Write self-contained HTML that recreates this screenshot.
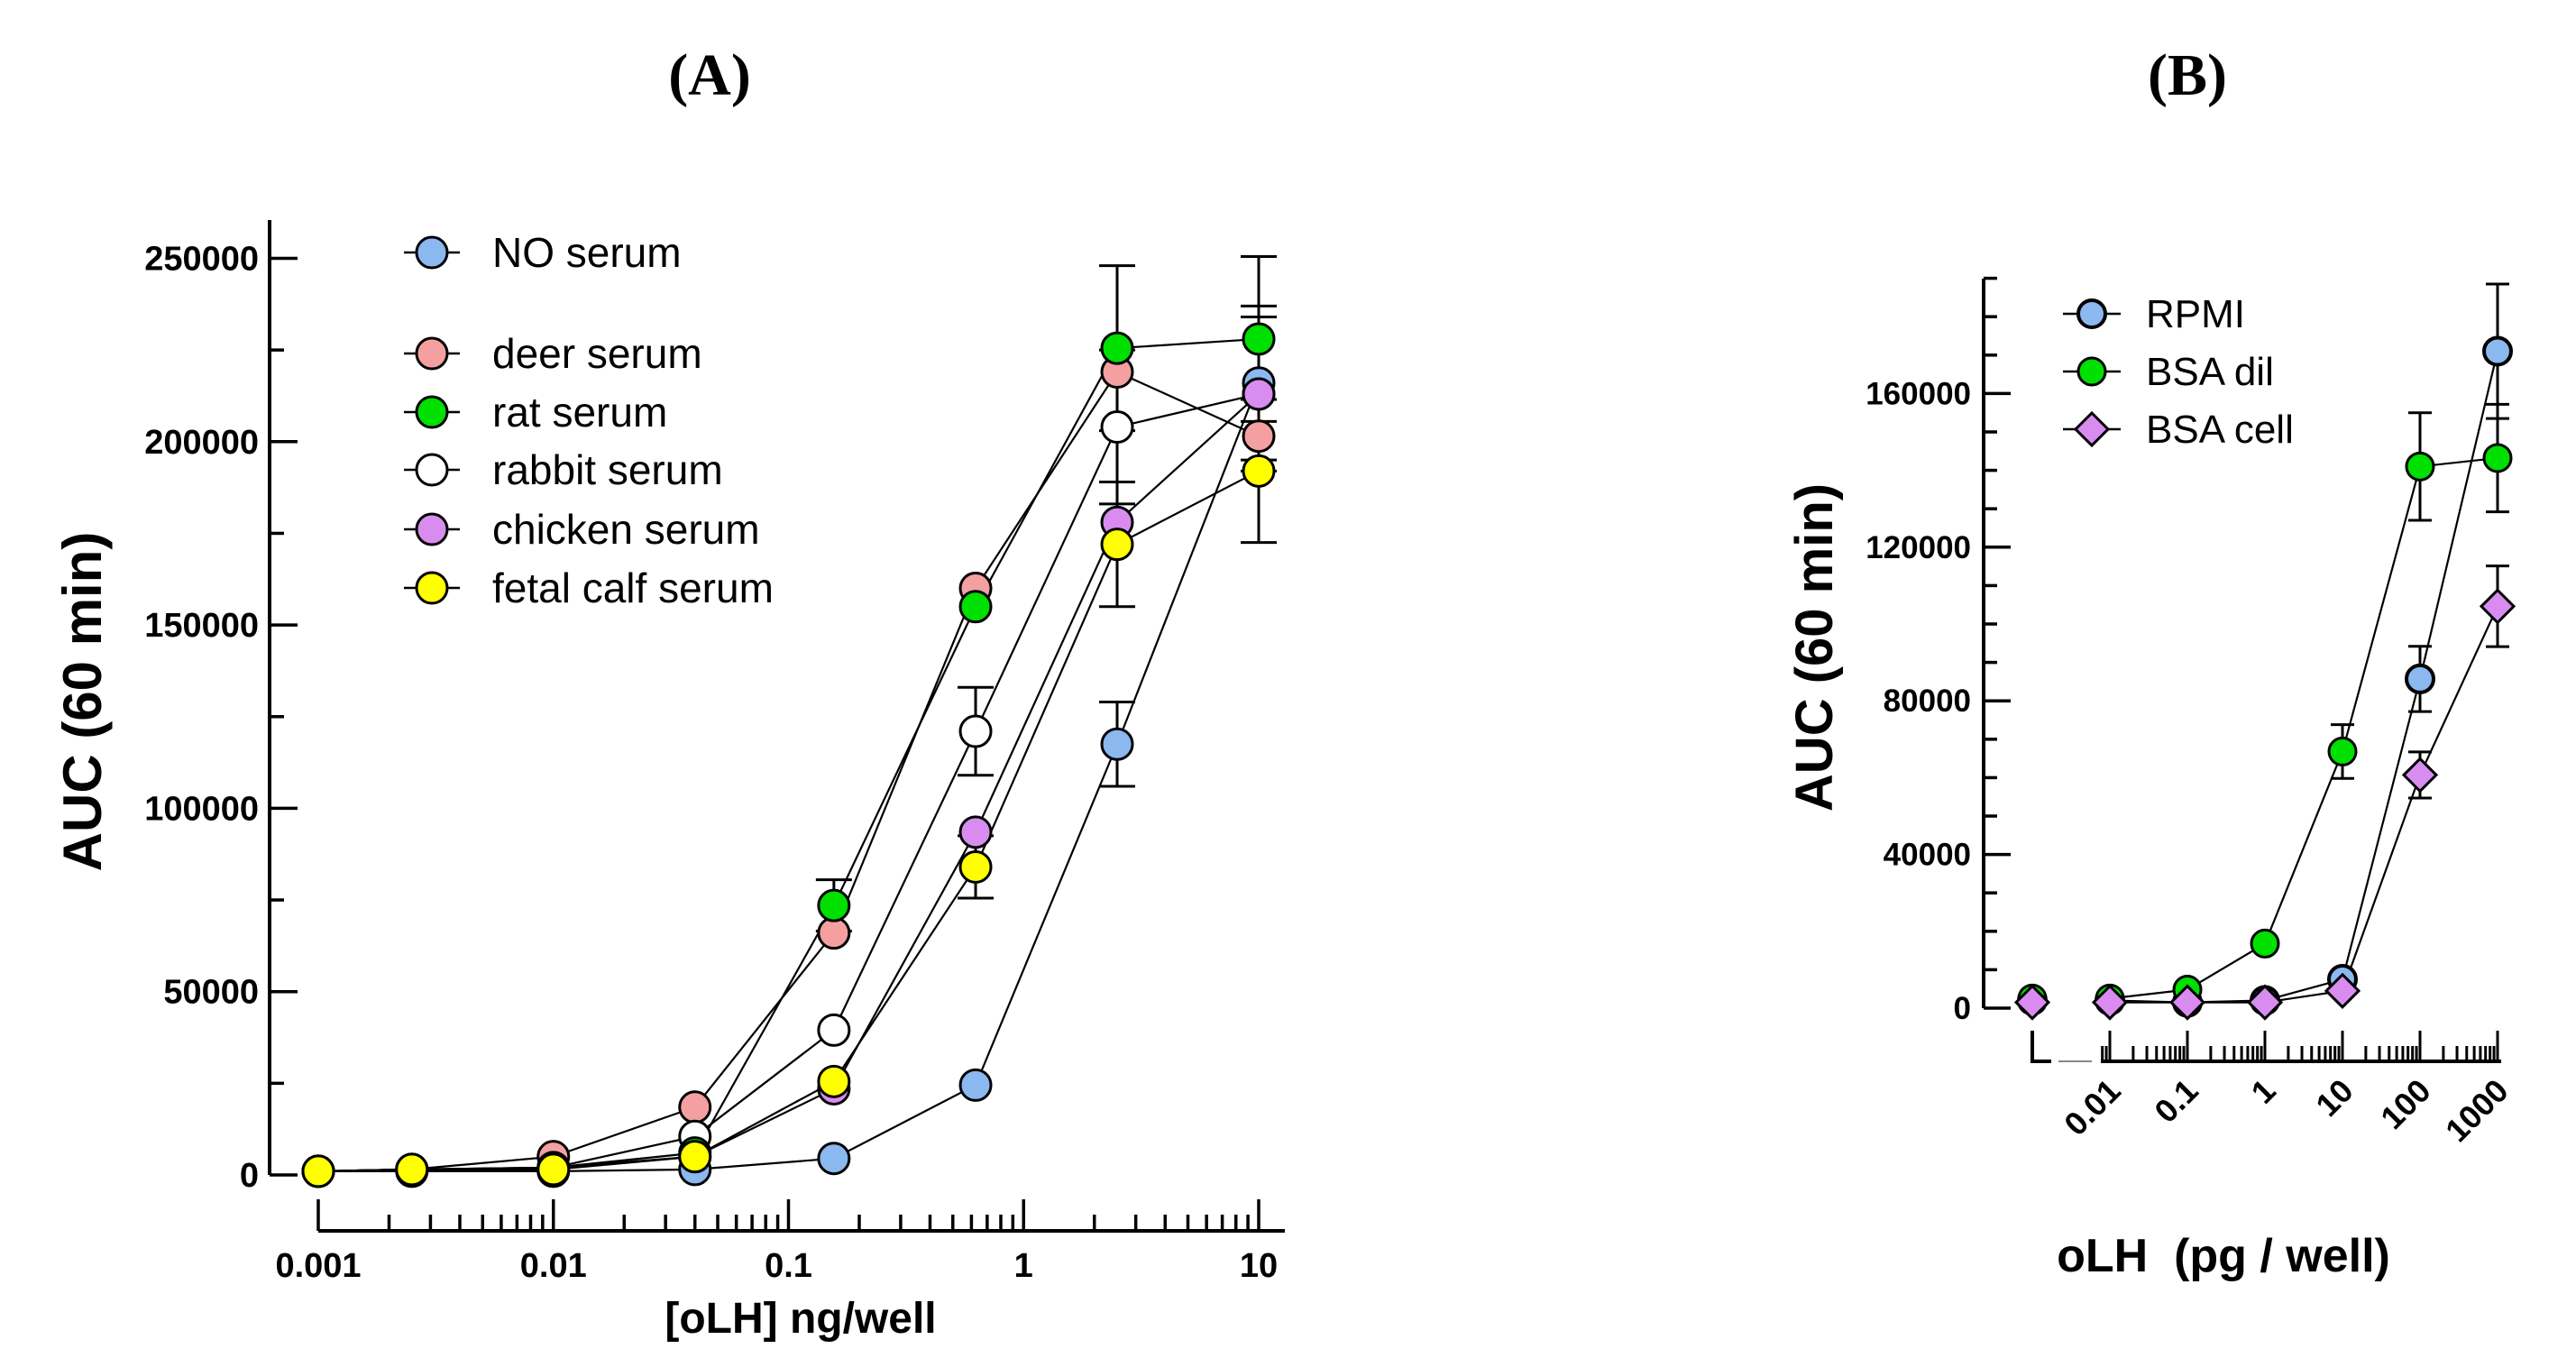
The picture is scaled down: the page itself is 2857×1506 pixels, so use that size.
<!DOCTYPE html>
<html><head><meta charset="utf-8"><style>
html,body{margin:0;padding:0;background:#fff;}
svg{display:block;font-family:"Liberation Sans",Arial,sans-serif;}
</style></head><body>
<svg id="chart" width="2857" height="1506" viewBox="0 0 2857 1506" xmlns="http://www.w3.org/2000/svg">
<text x="787" y="105" font-family="Liberation Serif,serif" font-weight="bold" font-size="66" text-anchor="middle">(A)</text>
<text x="2426" y="105" font-family="Liberation Serif,serif" font-weight="bold" font-size="66" text-anchor="middle">(B)</text>
<g id="gA"></g>
<g id="gB"></g>
</svg>
<script>
// Panel A data
const aX = [0.001, 0.0025, 0.01, 0.04, 0.156, 0.625, 2.5, 10];
const aNames = ["NO serum","deer serum","rat serum","rabbit serum","chicken serum","fetal calf serum"];
const aColors = ["#8cb8f0","#f4a0a0","#00e000","#ffffff","#d88cf0","#ffff00"];
const aNo      = [1000,1000,1000,1500,4500,24500,117500,216000];
const aDeer    = [1000,1500,5000,18500,66000,160000,219000,201500];
const aRat     = [1000,1500,2000,6000,73500,155000,225500,228000];
const aRabbit  = [1000,1500,2000,10500,39500,121000,204000,213000];
const aChicken = [1000,1500,2000,5000,23500,93500,178000,213000];
const aFcs     = [1000,1500,1500,5000,25500,84000,172000,192000];
const aErrNo      = [0,0,0,0,0,0,11500,21000];
const aErrDeer    = [0,0,0,0,0,0,0,0];
const aErrRat     = [0,0,0,0,7000,0,22500,22500];
const aErrRabbit  = [0,0,0,0,0,12000,21000,0];
const aErrChicken = [0,0,0,0,0,0,0,21000];
const aErrFcs     = [0,0,0,0,0,8500,17000,19500];
const aYTicks = [0,50000,100000,150000,200000,250000];
const aXTicks = [0.001,0.01,0.1,1,10];
const aXTickLabels = ["0.001","0.01","0.1","1","10"];

// Panel B data
const bX = [0, 0.01, 0.1, 1, 10, 100, 1000];
const bNames = ["RPMI","BSA dil","BSA cell"];
const bColors = ["#8cb8f0","#00e000","#d88cf0"];
const bRpmi  = [2000,2000,1500,2000,7500,85700,171000];
const bDil   = [2500,2500,4800,16800,66800,141000,143200];
const bCell  = [1500,1500,1500,1500,4500,60700,104600];
const bErrRpmi = [0,0,0,0,0,8500,17500];
const bErrDil  = [0,0,0,0,7000,14000,14000];
const bErrCell = [0,0,0,0,0,6000,10500];
const bYTicks = [0,40000,80000,120000,160000];
const bXTicks = [0.01,0.1,1,10,100,1000];
const bXTickLabels = ["0.01","0.1","1","10","100","1000"];

const NS="http://www.w3.org/2000/svg";
function mk(parent,tag,attrs,text){const e=document.createElementNS(NS,tag);for(const k in attrs)e.setAttribute(k,attrs[k]);if(text!==undefined)e.textContent=text;parent.appendChild(e);return e;}

// ---------- Panel A ----------
const gA=document.getElementById('gA');
const axA={x0:353,dec:260.75,y0:1303,k:0.004066};
const xA=v=>axA.x0+Math.log10(v/0.001)*axA.dec;
const yA=v=>axA.y0-v*axA.k;
let e=mk(gA,'line',{x1:299,y1:244,x2:299,y2:1303,stroke:'#000','stroke-width':4});

for(let v=0;v<=250000;v+=25000){
  const major=v%50000===0;
  e=mk(gA,'line',{x1:299,y1:yA(v),x2:299+(major?31:16),y2:yA(v),stroke:'#000','stroke-width':3.5});
  
}
aYTicks.forEach(v=>{
  e=mk(gA,'text',{x:287,y:yA(v)+13,'text-anchor':'end','font-size':38,'font-weight':'bold'},String(v));
  
});
e=mk(gA,'line',{x1:353,y1:1365,x2:1425,y2:1365,stroke:'#000','stroke-width':4});

for(let d=-3;d<=1;d++){
  for(let m=1;m<=9;m++){
    const v=m*Math.pow(10,d); if(v>10.001)break;
    e=mk(gA,'line',{x1:xA(v),y1:1365,x2:xA(v),y2:m===1?1330:1347,stroke:'#000','stroke-width':3.5});
    
  }
}
aXTicks.forEach((v,i)=>{
  e=mk(gA,'text',{x:xA(v),y:1416,'text-anchor':'middle','font-size':38,'font-weight':'bold'},aXTickLabels[i]);
  
});
e=mk(gA,'text',{x:888,y:1478,'text-anchor':'middle','font-size':48,'font-weight':'bold'},'[oLH] ng/well');

e=mk(gA,'text',{x:0,y:0,'text-anchor':'middle','font-size':60,'font-weight':'bold',transform:'translate(112,778) rotate(-90)'},'AUC (60 min)');


const aSeries=[aNo,aDeer,aRat,aRabbit,aChicken,aFcs];
const aErrs=[aErrNo,aErrDeer,aErrRat,aErrRabbit,aErrChicken,aErrFcs];
aSeries.forEach((s,si)=>{s.forEach((v,i)=>{const er=aErrs[si][i];if(!er)return;const x=xA(aX[i]);
  e=mk(gA,'path',{d:`M${x},${yA(v-er)}V${yA(v+er)}M${x-20},${yA(v+er)}h40M${x-20},${yA(v-er)}h40`,stroke:'#000','stroke-width':3,fill:'none'});
  
});});
aSeries.forEach((s,si)=>{
  e=mk(gA,'polyline',{points:s.map((v,i)=>xA(aX[i])+','+yA(v)).join(' '),fill:'none',stroke:'#000','stroke-width':2.2});
  
});
[0,1,3,4,2,5].forEach(si=>{aSeries[si].forEach((v,i)=>{
  e=mk(gA,'circle',{cx:xA(aX[i]),cy:yA(v),r:17,fill:aColors[si],stroke:'#000','stroke-width':3});
  
});});
const legY=[280,392,457,521,587,652];
aNames.forEach((n,i)=>{
  e=mk(gA,'line',{x1:448,y1:legY[i],x2:510,y2:legY[i],stroke:'#000','stroke-width':2.5});
  
  e=mk(gA,'circle',{cx:479,cy:legY[i],r:17,fill:aColors[i],stroke:'#000','stroke-width':3});
  
  e=mk(gA,'text',{x:546,y:legY[i]+16,'font-size':46},n);
  
});

// ---------- Panel B ----------
const gB=document.getElementById('gB');
const axB={x0:2340,dec:86,y0:1118,k:0.00426,zeroX:2254};
const xB=v=>v===0?axB.zeroX:axB.x0+Math.log10(v/0.01)*axB.dec;
const yB=v=>axB.y0-v*axB.k;
e=mk(gB,'line',{x1:2200,y1:309,x2:2200,y2:1118,stroke:'#000','stroke-width':4});

for(let v=0;v<=190000;v+=10000){
  const major=v%40000===0;
  e=mk(gB,'line',{x1:2200,y1:yB(v),x2:2200+(major?30:15),y2:yB(v),stroke:'#000','stroke-width':3.5});
  
}
bYTicks.forEach(v=>{
  e=mk(gB,'text',{x:2186,y:yB(v)+12,'text-anchor':'end','font-size':35,'font-weight':'bold'},String(v));
  
});
e=mk(gB,'path',{d:'M2254,1143V1177H2275',stroke:'#000','stroke-width':4,fill:'none'});

e=mk(gB,'line',{x1:2283,y1:1177,x2:2320,y2:1177,stroke:'#888','stroke-width':2});

e=mk(gB,'line',{x1:2330,y1:1177,x2:2774,y2:1177,stroke:'#000','stroke-width':4});

for(let d=-3;d<=3;d++){
  for(let m=1;m<=9;m++){
    const v=m*Math.pow(10,d); if(v>1000.01)break;
    const x=axB.x0+Math.log10(v/0.01)*axB.dec; if(x<2328)continue;
    e=mk(gB,'line',{x1:x,y1:1177,x2:x,y2:m===1?1143:1160,stroke:'#000','stroke-width':3});
    
  }
}
bXTicks.forEach((v,i)=>{
  const x=xB(v)+14,y=1212;
  e=mk(gB,'text',{x:x,y:y,'text-anchor':'end','font-size':36,'font-weight':'bold',transform:`rotate(-45 ${x} ${y})`},bXTickLabels[i]);
  
});
e=mk(gB,'text',{x:2466,y:1410,'text-anchor':'middle','font-size':52,'font-weight':'bold','xml:space':'preserve',style:'white-space:pre'},'oLH  (pg / well)');

e=mk(gB,'text',{x:0,y:0,'text-anchor':'middle','font-size':58,'font-weight':'bold',transform:'translate(2032,718) rotate(-90)'},'AUC (60 min)');


const bSeries=[bRpmi,bDil,bCell];
const bErrs=[bErrRpmi,bErrDil,bErrCell];
bSeries.forEach((s,si)=>{s.forEach((v,i)=>{const er=bErrs[si][i];if(!er)return;const x=xB(bX[i]);
  e=mk(gB,'path',{d:`M${x},${yB(v-er)}V${yB(v+er)}M${x-13},${yB(v+er)}h26M${x-13},${yB(v-er)}h26`,stroke:'#000','stroke-width':3,fill:'none'});
  
});});
bSeries.forEach((s,si)=>{
  e=mk(gB,'polyline',{points:s.slice(1).map((v,i)=>xB(bX[i+1])+','+yB(v)).join(' '),fill:'none',stroke:'#000','stroke-width':2.2});
  
});
function diamond(g,x,y,c){return mk(g,'path',{d:`M${x},${y-18}L${x+18},${y}L${x},${y+18}L${x-18},${y}Z`,fill:c,stroke:'#000','stroke-width':3});}
bSeries.forEach((s,si)=>{s.forEach((v,i)=>{
  const x=xB(bX[i]),y=yB(v);
  if(si===2) e=diamond(gB,x,y,bColors[si]);
  else e=mk(gB,'circle',{cx:x,cy:y,r:15,fill:bColors[si],stroke:'#000','stroke-width':si===0?4:3});
  
});});
const legBY=[348,412,476];
bNames.forEach((n,i)=>{
  e=mk(gB,'line',{x1:2288,y1:legBY[i],x2:2352,y2:legBY[i],stroke:'#000','stroke-width':2.5});
  
  if(i===2) e=diamond(gB,2320,legBY[i],bColors[i]);
  else e=mk(gB,'circle',{cx:2320,cy:legBY[i],r:15,fill:bColors[i],stroke:'#000','stroke-width':i===0?4:3});
  
  e=mk(gB,'text',{x:2380,y:legBY[i]+15,'font-size':44},n);
  
});
</script>
</body></html>
